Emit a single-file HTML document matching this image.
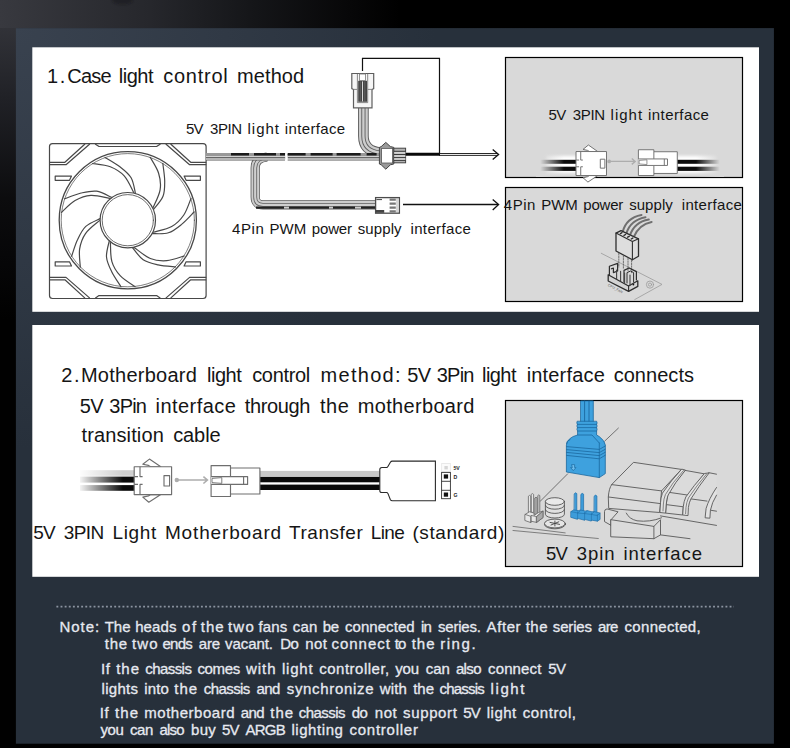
<!DOCTYPE html>
<html><head><meta charset="utf-8"><title>Light control method</title>
<style>
html,body{margin:0;padding:0;background:#000;}
body{width:790px;height:748px;overflow:hidden;position:relative;font-family:"Liberation Sans",sans-serif;}
svg{position:absolute;left:0;top:0;display:block}
text{font-family:"Liberation Sans",sans-serif;white-space:pre}
.t20{font-size:20px;fill:#151515}
.t15{font-size:15px;fill:#151515}
.note{font-size:15px;fill:#e6e9f0;stroke:#e6e9f0;stroke-width:0.3px}
</style></head>
<body>
<svg width="790" height="748" viewBox="0 0 790 748">
<defs>
<linearGradient id="bgTop" x1="0" y1="0" x2="400" y2="0" gradientUnits="userSpaceOnUse">
<stop offset="0" stop-color="#38393f"/><stop offset="0.375" stop-color="#26272c"/><stop offset="0.625" stop-color="#151619"/><stop offset="0.875" stop-color="#070708"/><stop offset="1" stop-color="#000"/>
</linearGradient>
<linearGradient id="bgLeft" x1="0" y1="0" x2="0" y2="320" gradientUnits="userSpaceOnUse">
<stop offset="0" stop-color="#38393f"/><stop offset="0.31" stop-color="#202126"/><stop offset="0.62" stop-color="#0c0c0e"/><stop offset="1" stop-color="#010101"/>
</linearGradient>
<radialGradient id="png" cx="16" cy="28" r="420" gradientUnits="userSpaceOnUse">
<stop offset="0" stop-color="#39424f"/><stop offset="1" stop-color="#27303b"/>
</radialGradient>
<filter id="blurA" x="-30%" y="-60%" width="160%" height="220%"><feGaussianBlur stdDeviation="0.9"/></filter>
</defs>
<!-- BACKGROUND -->
<rect width="790" height="748" fill="#000"/>
<rect width="790" height="28.2" fill="url(#bgTop)"/>
<rect y="28" width="16.2" height="720" fill="url(#bgLeft)"/>
<ellipse cx="122.5" cy="0" rx="10.5" ry="4.6" fill="#15151b" opacity="0.5" filter="url(#blurA)"/>
<rect x="15.9" y="28.1" width="758" height="715.6" fill="url(#png)"/>
<!-- WHITE PANELS -->
<rect x="32.3" y="47.3" width="726.7" height="264.5" fill="#fff"/>
<rect x="32.3" y="325" width="726.7" height="251.8" fill="#fff"/>
<!-- GRAY BOXES -->
<rect x="505.5" y="57.5" width="237" height="120" fill="#d9d9d9" stroke="#000" stroke-width="1.2"/>
<rect x="505.5" y="187.5" width="237" height="114" fill="#d9d9d9" stroke="#000" stroke-width="1.2"/>
<rect x="505.5" y="400.5" width="237" height="166" fill="#d9d9d9" stroke="#000" stroke-width="1.2"/>
<g id="fan" fill="none" stroke="#484848" stroke-width="1.2" stroke-linecap="round" stroke-linejoin="round">
<rect x="49.5" y="143.6" width="156.6" height="154.9" rx="3" fill="#fff"/>
<circle cx="127.8" cy="220.2" r="68.6" stroke-width="1.3"/><circle cx="127.8" cy="220.2" r="66.6" stroke-width="0.7"/>
<path d="M111.8 197.6C109.3 196.5 101.8 192 96.7 191.2C91.6 190.5 86.5 191.8 81.1 193C75.8 194.3 67.3 197.8 64.5 198.8M109.9 198.3C106.7 197.8 96.7 195.1 90.9 195.4C85.2 195.8 80 197.8 75.1 200.6C70.2 203.4 63.7 210.4 61.5 212.4M135.5 193.6C134.8 191 133.7 182.3 131.1 177.8C128.5 173.4 124.3 170.2 119.9 166.8C115.6 163.4 107.6 158.9 105.1 157.4M133.7 192.5C132.2 189.8 128.1 180.2 124.2 175.9C120.3 171.7 115.5 168.9 110.3 166.8C105 164.7 95.5 164 92.5 163.5M153.4 209.6C155 207.4 161.1 201.2 163 196.3C164.9 191.5 164.7 186.3 164.7 180.7C164.6 175.2 163.1 166.2 162.8 163.3M153.1 207.6C154.3 204.6 159.2 195.5 160.1 189.8C161.1 184 160.3 178.6 158.6 173.2C157 167.8 151.6 159.9 150.2 157.3M152 233.6C154.8 233.5 163.4 234.4 168.4 232.8C173.3 231.3 177.3 227.9 181.6 224.4C185.9 221 192 214.1 194.1 212M153.5 232.2C156.5 231.2 166.7 229.4 171.7 226.5C176.8 223.7 180.6 219.7 183.8 215C187 210.3 189.8 201.2 191 198.4M132.4 247.5C134.2 249.6 139 256.9 143.2 259.8C147.5 262.7 152.7 263.7 158.1 264.9C163.4 266.1 172.6 266.6 175.5 266.9M134.4 247.7C137.1 249.5 144.9 256.3 150.3 258.5C155.6 260.7 161.1 261.1 166.8 260.7C172.4 260.3 181.3 256.8 184.2 256M109.3 240.8C108.8 243.5 106.1 251.8 106.5 257C106.9 262.1 109.3 266.8 111.7 271.7C114.1 276.7 119.5 284.2 121 286.7M110.4 242.5C110.7 245.7 110.2 256.1 111.9 261.6C113.5 267.2 116.6 271.8 120.4 275.9C124.3 280.1 132.5 284.8 135 286.6M100.1 218.6C97.7 219.9 89.5 222.9 85.8 226.4C82 230 79.8 234.8 77.5 239.8C75.1 244.7 72.6 253.6 71.6 256.3M99.5 220.6C97.2 222.7 88.8 228.8 85.5 233.6C82.2 238.3 80.5 243.6 79.6 249.2C78.8 254.8 80.2 264.2 80.3 267.2"/>
<circle cx="127.8" cy="220.2" r="27.7" fill="#fff" stroke-width="1.2"/><circle cx="127.8" cy="220.2" r="25.6" stroke-width="0.8"/>
<path d="M49.8 162.3L64.9 162.3L84.7 144.2M49.8 164.7L66 164.7L89.5 144.2M55.2 176.1L71.5 176.1L69.5 180.3L55.2 180.3ZM49.8 279.8L64.9 279.8L84.7 297.9M49.8 277.4L66 277.4L89.5 297.9M55.2 266L71.5 266L69.5 261.8L55.2 261.8ZM205.8 162.3L190.7 162.3L170.9 144.2M205.8 164.7L189.6 164.7L166.1 144.2M200.4 176.1L184.1 176.1L186.1 180.3L200.4 180.3ZM205.8 279.8L190.7 279.8L170.9 297.9M205.8 277.4L189.6 277.4L166.1 297.9M200.4 266L184.1 266L186.1 261.8L200.4 261.8ZM95.5 144.2L99 146.5L156.6 146.5L160.1 144.2M95.5 297.9L99 295.6L156.6 295.6L160.1 297.9"/>
</g>
<!-- ===== PANEL 1 CABLES ===== -->
<g id="cables1" fill="none" stroke-linecap="butt">
 <!-- branch cable (drawn first) -->
 <path d="M267 157 C259 158 255.2 161 255.2 168 L255.2 197 Q255.2 204.8 263 204.8 L376 204.8" stroke="#5a5a5a" stroke-width="9.2"/>
 <path d="M267 157 C259 158 255.2 161 255.2 168 L255.2 197 Q255.2 204.8 263 204.8 L376 204.8" stroke="#cdcdcd" stroke-width="7.6"/>
 <path d="M267 157 C259 158 255.2 161 255.2 168 L255.2 197 Q255.2 204.8 263 204.8 L376 204.8" stroke="#5e5e5e" stroke-width="3.8"/>
 <path d="M267 157 C259 158 255.2 161 255.2 168 L255.2 197 Q255.2 204.8 263 204.8 L376 204.8" stroke="#cfcfcf" stroke-width="2.2"/>
 <path d="M256 207.6 L376 207.6" stroke="#222" stroke-width="2.4" stroke-dasharray="28 5 40 4 22 6"/>
 <!-- wires from top connector -->
 <path d="M363.4 108 L363.4 136 Q363.4 151 380 152.5" stroke="#5a5a5a" stroke-width="10.6"/>
 <path d="M363.4 108 L363.4 136 Q363.4 151 380 152.5" stroke="#cbcbcb" stroke-width="8.8"/>
 <path d="M363.4 108 L363.4 136 Q363.4 151 380 152.5" stroke="#5e5e5e" stroke-width="4.2"/>
 <path d="M363.4 108 L363.4 136 Q363.4 151 380 152.5" stroke="#cdcdcd" stroke-width="2.4"/>
 <!-- main cable -->
 <path d="M206 156.7 L285.2 156.7 M287.6 156.7 L380 156.7" stroke="#5a5a5a" stroke-width="7.6"/>
 <path d="M206 157.6 L285.2 157.6 M287.6 157.6 L380 157.6" stroke="#d2d2d2" stroke-width="4.4"/>
 <path d="M206 157.6 L285.2 157.6 M287.6 157.6 L380 157.6" stroke="#666" stroke-width="1.1"/>
 <path d="M206 154.2 L285.2 154.2 M287.6 154.2 L380 154.2" stroke="#999" stroke-width="2.4"/>
 <path d="M231 154.2 L285.2 154.2 M287.6 154.2 L380 154.2" stroke="#1c1c1c" stroke-width="2.4" stroke-dasharray="18 5 22 4 24 6 10 3"/>
 <path d="M287 152 q-1.6 2.4 -0.6 4.5 q0.8 2 -0.6 4.6" stroke="#fff" stroke-width="2.2"/>
</g>
<!-- top connector -->
<g id="conn-top" stroke="#5e5e5e" stroke-width="1.2" fill="#fff">
 <path d="M351.8 73.5 H373.7 V88.6 L372 89.6 V107.8 H353.5 V89.6 L351.8 88.6 Z" fill="#f6f6f6"/>
 <path d="M357.4 74 V102.6 H367.7 V74" fill="none" stroke="#7a7a7a" stroke-width="0.9"/>
 <path d="M353.5 89.4 H357.2 M367.9 89.4 H372" fill="none" stroke="#7a7a7a" stroke-width="0.9"/>
 <rect x="358.2" y="80.8" width="8.8" height="21" fill="#444" stroke="none"/>
 <path d="M362.5 81.4 V101.4" stroke="#e8e8e8" stroke-width="0.9" fill="none"/>
 <path d="M360.3 81.4 V101.4 M364.8 81.4 V101.4" stroke="#777" stroke-width="0.6" fill="none"/>
 <rect x="359.4" y="74" width="6.2" height="6.4" fill="#fff" stroke="#777" stroke-width="0.8"/>
</g>
<!-- middle connector -->
<g id="conn-mid" stroke="#444" stroke-width="1">
 <path d="M379.4 147.4 L381.2 146.6 L385.8 142.4 L390.4 146.6 L393.8 147.4 V164 L390.4 164.8 L385.8 169.2 L381.2 164.8 L379.4 164 Z" fill="#9a9a9a"/>
 <rect x="381.6" y="148.4" width="11" height="14.6" fill="#fff" stroke="#555" stroke-width="0.8"/>
 <rect x="393.8" y="148.2" width="11.8" height="14.6" fill="#b4b4b4"/>
 <path d="M394 151.3 H405.6 M394 154.5 H405.6 M394 157.6 H405.6 M394 160.4 H405.6" stroke="#3a3a3a" stroke-width="1" fill="none"/>
 <path d="M394 152.9 H405.6 M394 156 H405.6 M394 159 H405.6" stroke="#e8e8e8" stroke-width="1" fill="none"/>
</g>
<!-- bottom 4pin connector -->
<g id="conn-4pin" stroke="#4c4c4c" stroke-width="1.3">
 <rect x="375.6" y="197.6" width="23.8" height="15.6" fill="#fff"/>
 <path d="M389.6 199.7 H395.8 M389.6 203.7 H395.8 M389.6 207.6 H395.8 M389.6 211.4 H395.8" stroke="#777" stroke-width="2.2" fill="none"/>
 <path d="M397 198 V213" stroke="#9a9a9a" stroke-width="0.8" fill="none"/>
 <rect x="376" y="210" width="8.2" height="2.8" fill="#444" stroke="none"/>
 <path d="M376.4 199.6 H382" stroke="#444" stroke-width="1" fill="none"/>
</g>
<!-- callout lines + arrows -->
<g id="arrows1" fill="none" stroke="#111" stroke-width="1.2">
 <path d="M362.5 71 V58.4 H439.5 V154.3"/>
 <path d="M405.8 154.3 H440" stroke-width="3" stroke="#0a0a0a"/>
 <path d="M439 153.5 H497.4 M439 155.4 H497.4" stroke-width="0.9"/>
 <path d="M492.7 149.6 L498.6 154.5 L492.7 159.6" stroke-width="1.3"/>
 <path d="M403 204.5 H498" stroke-width="1.3"/>
 <path d="M492.7 199.5 L498.6 204.6 L492.7 209.9" stroke-width="1.3"/>
</g>
<!-- ===== reusable plug/socket (panel-2 coordinates) ===== -->
<defs>
 <linearGradient id="fadeL" x1="0" x2="1" y1="0" y2="0"><stop offset="0" stop-color="#fff" stop-opacity="1"/><stop offset="0.75" stop-color="#fff" stop-opacity="0"/></linearGradient>
 <linearGradient id="fadeR" x1="1" x2="0" y1="0" y2="0"><stop offset="0" stop-color="#fff" stop-opacity="1"/><stop offset="0.75" stop-color="#fff" stop-opacity="0"/></linearGradient>
 <linearGradient id="fadeLg" x1="0" x2="1" y1="0" y2="0"><stop offset="0" stop-color="#d9d9d9" stop-opacity="1"/><stop offset="0.15" stop-color="#d9d9d9" stop-opacity="1"/><stop offset="1" stop-color="#d9d9d9" stop-opacity="0"/></linearGradient>
 <linearGradient id="fadeRg" x1="1" x2="0" y1="0" y2="0"><stop offset="0" stop-color="#d9d9d9" stop-opacity="1"/><stop offset="0.15" stop-color="#d9d9d9" stop-opacity="1"/><stop offset="1" stop-color="#d9d9d9" stop-opacity="0"/></linearGradient>
 <filter id="blur2" x="-20%" y="-40%" width="140%" height="180%"><feGaussianBlur stdDeviation="1.6"/></filter>
 <g id="plug" stroke="#6e6e6e" stroke-width="1.15" fill="#fff" stroke-linejoin="round">
  <path d="M160.8 466.7 L149.4 459.1 L142.8 464.2 L148.5 465.4 L150.6 466.7 Z M160.8 494.6 L148.8 502.2 L142.8 497.1 L148.5 495.9 L150.6 494.6 Z"/>
  <rect x="134.2" y="466.7" width="37.4" height="27.9"/>
  <path d="M140 466.7 V476.6 H142.6 M140 494.6 V484.4 H142.6 M134.4 476.6 H138 M134.4 484.4 H138" fill="none"/>
  <rect x="164" y="475.6" width="5.6" height="10.4"/>
 </g>
 <g id="socket" stroke="#6e6e6e" stroke-width="1.15" fill="#fff" stroke-linejoin="round">
  <path d="M211.1 465.6 H230.5 V468 H259.9 V494 H230.5 V496.5 H211.1 Z"/>
  <path d="M230.5 468 V476.6 M230.5 494 V484.4" fill="none"/>
  <path d="M211.1 476.6 H247.6 V484.4 H211.1" fill="#fff"/>
  <path d="M243.6 476.6 V484.4" fill="none"/>
  <path d="M212 478.4 L221.8 477.6 V483.4 L212 482.6 Z" fill="#fff" stroke-width="0.9"/>
 </g>
 <g id="harrow" stroke="#adadad" stroke-width="1.6" fill="none">
  <circle cx="176.8" cy="480" r="2.2" fill="#adadad" stroke="none"/>
  <path d="M176.6 480 H207 M203.4 476.6 L207.4 480 L203.4 483.5"/>
 </g>
</defs>
<!-- ===== GRAY BOX 1 CONTENT ===== -->
<g id="box1art">
 <rect x="546" y="156" width="31" height="17" fill="#fff" filter="url(#blur2)"/>
 <rect x="539" y="159.8" width="38" height="4" fill="#0c0c0c"/><rect x="539" y="166.7" width="38" height="4.2" fill="#0c0c0c"/>
 <rect x="536" y="152" width="28" height="25" fill="url(#fadeLg)"/>
 <rect x="677" y="156" width="40" height="17" fill="#fff" filter="url(#blur2)"/>
 <rect x="677" y="159.8" width="45" height="4" fill="#0c0c0c"/><rect x="677" y="166.7" width="45" height="4.2" fill="#0c0c0c"/>
 <rect x="696" y="152" width="28" height="25" fill="url(#fadeRg)"/>
 <use href="#plug" transform="translate(576 163.5) scale(0.8155 0.86) translate(-134.2 -480.6)"/>
 <use href="#socket" transform="translate(638.4 162.6) scale(0.797 0.835) translate(-211.1 -481)"/>
 <use href="#harrow" transform="translate(609 161.4) scale(0.85 0.85) translate(-176.6 -480)"/>
</g>
<!-- ===== PANEL 2 CABLE ===== -->
<g id="cable2">
 <rect x="80" y="470.2" width="55" height="5.6" fill="#cfcfcf"/>
 <rect x="80" y="476.6" width="55" height="6" fill="#0a0a0a"/>
 <rect x="80" y="485.1" width="55" height="5.7" fill="#0a0a0a"/>
 <rect x="78" y="468" width="60" height="25" fill="url(#fadeL)"/>
 <rect x="259.9" y="470.9" width="121" height="5.4" fill="#c9c9c9"/>
 <rect x="259.9" y="476.8" width="121" height="5.5" fill="#0a0a0a"/>
 <rect x="259.9" y="484.6" width="121" height="5.4" fill="#0a0a0a"/>
 <use href="#plug"/>
 <use href="#socket"/>
 <use href="#harrow"/>
 <!-- big connector -->
 <path d="M379.8 469.6 Q379.8 467.5 381.9 467.5 H386.6 Q387.4 467.5 387.9 466.6 L390.4 462.2 Q391 461.1 392.4 461.1 H435.4 V500.8 H392.4 Q391 500.8 390.4 499.7 L387.9 493.4 Q387.4 492.5 386.6 492.5 H381.9 Q379.8 492.5 379.8 490.4 Z" fill="#fff" stroke="#2a2a2a" stroke-width="1.1"/>
 <!-- pin column -->
 <rect x="441.7" y="463.4" width="8.6" height="8.4" fill="#fbfbfb" stroke="#e2e2e2" stroke-width="0.7"/>
 <rect x="444.4" y="466" width="3.4" height="3.4" fill="#d6d6d6"/>
 <rect x="441.6" y="472.4" width="8.8" height="26.3" fill="#fff" stroke="#333" stroke-width="0.9"/>
 <path d="M441.6 481.3 H450.4 M441.6 490.3 H450.4" stroke="#333" stroke-width="0.9" fill="none"/>
 <rect x="443.8" y="474.4" width="4.3" height="4.2" fill="#111"/>
 <rect x="443.8" y="492.5" width="4.3" height="4.2" fill="#111"/>
 <text x="453.4" y="469.6" style="font-size:5.2px;font-weight:bold;fill:#1c1c1c">5V</text>
 <text x="453.4" y="478.5" style="font-size:5.2px;font-weight:bold;fill:#1c1c1c">D</text>
 <text x="453.4" y="496.7" style="font-size:5.2px;font-weight:bold;fill:#1c1c1c">G</text>
</g>
<!-- ===== GRAY BOX 2 CONTENT (4pin header) ===== -->
<g id="box2art" fill="none" stroke-linejoin="round" stroke-linecap="round">
 <path d="M601.3 253.3 L662 284.4 L634.7 299.6" stroke="#9a9a9a" stroke-width="0.8"/>
 <circle cx="650" cy="284.6" r="3.6" stroke="#9a9a9a" stroke-width="0.8"/>
 <circle cx="650" cy="284.6" r="1.6" stroke="#9a9a9a" stroke-width="0.8"/>
 <!-- wires -->
 <path d="M622.6 232.2 C625 222 633 216.6 641.5 215" stroke="#6f6f6f" stroke-width="2"/>
 <path d="M626.2 234 C629 224 637 218.6 645.5 217.2" stroke="#6f6f6f" stroke-width="2"/>
 <path d="M629.8 235.8 C633 226.4 640 221 648.8 219.6" stroke="#6f6f6f" stroke-width="2"/>
 <path d="M633.4 237.6 C637 229 643 223.6 651.6 222" stroke="#6f6f6f" stroke-width="2"/>
 <!-- block -->
 <path d="M616 233.1 L621 230.6 L638.5 238.8 V256.3 L632.4 259.8 L616 251 Z" fill="#dedede" stroke="#2e2e2e" stroke-width="1.3"/>
 <path d="M616 233.1 L632.4 241.6 L638.5 238.8 M632.4 241.6 V259.8" stroke="#2e2e2e" stroke-width="1.1"/>
 <path d="M620.4 233.6 l1.6 -0.9 M624 235.4 l1.6 -0.9 M627.6 237.2 l1.6 -0.9 M631.2 239 l1.6 -0.9" stroke="#2e2e2e" stroke-width="1.4"/>
 <!-- dashed guides -->
 <path d="M618.8 253.4 V267 M623.4 255.8 V269 M628 258.2 V271 M631.6 260.4 V273" stroke="#555" stroke-width="0.8" stroke-dasharray="1.5 1.2"/>
 <!-- header -->
 <path d="M608.2 274.8 V281 L628.6 291.4 L637.8 286.4 V280.8 L628.6 286 Z" fill="#d4d4d4" stroke="#2e2e2e" stroke-width="1.3"/>
 <path d="M628.6 286 V291.4" stroke="#2e2e2e" stroke-width="1.1"/>
 <path d="M609.4 274.6 V266.2 L617.6 263.4 V271 L613.4 272.6 V268 L611.4 268.8" stroke="#2e2e2e" stroke-width="1.2"/>
 <path d="M624 282 V270.4 L629 268 L636.4 271.6 V280" stroke="#2e2e2e" stroke-width="1.2"/>
 <path d="M627 283 V272.6 L630.6 271 L633.6 272.6 V282" stroke="#2e2e2e" stroke-width="1"/>
 <path d="M616.6 279 V270 M620.6 281 V271.4 M624.6 283 V273 M630 285.4 V275" stroke="#444" stroke-width="1.1"/>
 <circle cx="633.4" cy="284.6" r="0.9" fill="#111" stroke="none"/>
</g>
<text transform="translate(607.6 285.8) rotate(28)" style="font-size:3.4px;fill:#555;letter-spacing:0.1px">CPU_FAN</text>
<!-- ===== GRAY BOX 3 CONTENT (motherboard) ===== -->
<g id="box3art" fill="none" stroke-linejoin="round" stroke-linecap="round">
 <!-- diagonal leader lines -->
 <path d="M618.4 428.1 L604.7 441.1 M567.6 473.9 L540.1 501.4" stroke="#555" stroke-width="0.8"/>
 <!-- board edge lines -->
 <path d="M513 526.4 L565.2 532.9 M513 530.5 L598.3 538.5" stroke="#666" stroke-width="0.8"/>
 <!-- heatsink / slots -->
 <g stroke="#585858" stroke-width="0.9" fill="#dbdbdb">
  <!-- lower platform -->
  <path d="M606.6 509 Q604.4 509.4 604.5 511.6 V521.6 L611.1 525.4 V519.7 L617.8 512.1 Z"/>
  <path d="M611.1 519.7 L653.9 526.4 L660.5 519.7 V534.9 L653.9 538.7 L611.1 536.8 Z"/>
  <path d="M653.9 526.4 V538.7" fill="none"/>
  <path d="M626.3 513.1 Q629 519 637 520.8 Q650 522.4 661.5 517.8" fill="none"/>
  <path d="M660.5 534.9 L690 538.7 M660.5 515.9 L716.5 525.4" fill="none"/>
  <!-- block 3 (cut at right) -->
  <path d="M708.9 472.7 L716.5 474.2 V511.2 L710.4 510.2 L690.9 498.9 Z" stroke="none"/>
  <path d="M708.9 472.7 L716.5 474.2 M690.9 498.9 L707 501.1 M710.4 510.2 L716.5 511.2" fill="none"/>
  <!-- block 2 -->
  <path d="M685.2 470.4 L704.2 473.8 L688 495.1 L683.3 506.8 L682.7 515 L665.6 513.1 L666.2 504.6 L668.1 492.2 Z"/>
  <path d="M668.1 492.2 L688 495.1 M666.2 504.6 L683.3 506.8" fill="none"/>
  <!-- block 1 -->
  <path d="M633.9 462.4 L681.4 469.4 L661.5 490.9 L660.5 503.6 L659.6 512.5 L608.7 508.4 L608.3 497 Q609 488 611.7 484.6 Z"/>
  <path d="M611.7 484.6 L661.5 490.9 M608.5 497 L660.5 503.6" fill="none"/>
  <!-- straps -->
  <path d="M681.4 469.4 Q670.9 480.8 662.4 493.2 Q660.7 498 660.5 502.7 L659.9 512.5 L665.6 513.1 L666.2 504.6 Q666.6 499 668.1 495.1 Q674.7 482.7 685.2 470.4 Z" fill="#e2e2e2"/>
  <path d="M683.4 470.6 Q672 483 665.4 494.6 Q663.6 499 663.4 504 L663 511" fill="none" stroke-width="0.7"/>
  <path d="M704.2 473.8 Q693.7 485.6 685.8 497 Q683.8 501.6 683.3 506.5 L682.7 515 L688 515.6 L688.4 507.4 Q689 502.6 690.9 498.9 Q698.5 486.5 708.9 473.2 Z" fill="#e2e2e2"/>
  <path d="M706.6 474 Q696 486.4 688.4 498 Q686.4 502.6 686 507.4 L685.6 513.6" fill="none" stroke-width="0.7"/>
  <path d="M716.5 487.5 Q708.9 498.9 706.1 508.4 L705.1 517.8 L709.9 518.2 L710.4 510.3 Q711.8 502.7 716.5 495.1" fill="#e2e2e2"/>
 </g>
 <!-- gray 3pin header -->
 <g stroke="#666" stroke-width="0.8" fill="#e6e6e6">
  <path d="M528.4 512 V496.2 Q529.6 494.6 530.8 496.2 V512 Z M531.2 512 V494.4 Q532.4 492.8 533.6 494.4 V512 Z"/>
  <path d="M534.8 514 V498 Q536 496.4 537.2 498 V514 Z" fill="#b4b4b4"/>
  <path d="M537.8 513 V495.6 Q538.8 494.2 539.8 495.6 V513 Z" fill="#cfcfcf"/>
  <path d="M525.2 514.4 L529.4 511.8 L534 513 L534 515.4 L538.4 512.6 L543 511 V517.6 L536.6 522.4 L531 521.2 L530.8 522.6 L525.2 520.6 Z"/>
  <path d="M536.6 522.4 V516.6 L543 511 M536.6 516.6 L531 515.4 V521.2 M525.2 514.4 L530.8 516.4 V522.6" fill="none"/>
  <path d="M536.6 516.6 L543 511 V517.6 L536.6 522.4 Z" fill="#a9a9a9"/>
 </g>
 <!-- coil + screw -->
 <g stroke="#555" stroke-width="0.9" fill="#e0e0e0">
  <ellipse cx="554.9" cy="524.4" rx="10.4" ry="4.4"/>
  <ellipse cx="554.9" cy="523.5" rx="10.4" ry="4.4" fill="#e6e6e6"/>
  <path d="M550 522.4 L559.6 524.4 M551 525 L558.8 521.8 M554.9 521 V526" stroke-width="0.9" stroke="#444"/>
  <path d="M545.4 501.5 V514.2 A9.5 3.8 0 0 0 564.4 514.2 V501.5 Z"/>
  <path d="M545.4 505.4 A9.5 3.8 0 0 0 564.4 505.4 M545.4 509.6 A9.5 3.8 0 0 0 564.4 509.6" fill="none"/>
  <ellipse cx="554.9" cy="501.5" rx="9.5" ry="3.8" fill="#e9e9e9"/>
 </g>
 <!-- blue pins -->
 <g stroke="#1f6fa8" stroke-width="0.7" fill="#3d9cda">
  <path d="M574.4 493.6 Q575.6 491.8 576.8 493.6 V511.6 H574.4 Z M581 494.2 Q582.3 492.4 583.6 494.2 V512.4 H581 Z M594.3 496 Q595.6 494.2 596.9 496 V514.6 H594.3 Z"/>
  <path d="M571 511.6 L573.6 509.9 L578.4 510.6 L580.4 510 L585.2 511 L587.2 510.6 L592 511.8 L594 511.6 L600.1 513 V519.4 L597.4 521.2 L592 520.2 L591 521 L585.4 519.6 L584.4 520.2 L578.4 518.6 L577 519.2 L571 517.4 Z"/>
  <path d="M577.6 511.8 V519 M584.6 512.4 V520 M591.4 513.2 V520.8 M597.4 514.6 V521.2 M571 511.6 L577.6 513 L580.4 510.6 M577.6 513 L584.6 513.6 L587.2 511.2 M584.6 513.6 L591.4 514.4 L594 512 M591.4 514.4 L597.4 515.6 L600.1 513" fill="none" stroke-width="0.6"/>
 </g>
 <!-- blue connector -->
 <g stroke="#1b689f" stroke-width="0.8" fill="#3ea1de">
  <path d="M580.9 400.9 H593.3 V423 H580.9 Z"/>
  <path d="M584.6 401 V422 M589 401 V422" stroke-width="0.9"/>
  <path d="M577 421.6 Q576.4 423 577.4 424.4 Q576.4 426 577.4 427.6 Q576.4 429.4 577.6 431 L577.6 435 Q567.6 437.4 566.4 445 V472 L599.3 477.6 L605.3 473.6 V445 Q605 441 599.3 436.6 L596.6 435 V431 Q597.6 429.4 596.6 427.6 Q597.6 426 596.6 424.4 Q597.6 423 596.8 421.6 Z"/>
  <path d="M577.4 424.4 H596.6 M577.4 427.6 H596.6 M577.6 431 H596.6 M577.6 435 H592 L599.3 443" fill="none"/>
  <path d="M566.4 443.6 Q566 441 570 439.6 M566.6 446.6 L599.3 449.4 L605.3 446 M566.6 449.6 L599.3 452.6 L605.3 449.2 M566.6 452.4 L599.3 455.6 L605.3 452.2 M566.6 455.4 L599.3 458.8 L605.3 455.2 M599.3 443 V477.6" fill="none"/>
  <path d="M572 464.6 h2.6 v3 h1.4 l-2.7 3 l-2.7 -3 h1.4 Z" fill="#6dbcec" stroke-width="0.7"/>
 </g>
</g>

<!-- TEXT -->
<g id="texts">
<text class="t20" y="83.4"><tspan x="47.07" letter-spacing="1.49">1. </tspan><tspan x="67.33" letter-spacing="-0.8">Case </tspan><tspan x="118.81" letter-spacing="-0.48">light </tspan><tspan x="163.25" letter-spacing="0.75">control </tspan><tspan x="237.12" letter-spacing="0.06">method</tspan></text>
<text class="t15" y="134"><tspan x="186.05" letter-spacing="-0.8">5V </tspan><tspan x="210.06" letter-spacing="-0.41">3PIN </tspan><tspan x="247.61" letter-spacing="0.93">light </tspan><tspan x="284.8" letter-spacing="0.36">interface</tspan></text>
<text class="t15" y="120.3"><tspan x="548.61" letter-spacing="-0.8">5V </tspan><tspan x="572.74" letter-spacing="-0.33">3PIN </tspan><tspan x="610.58" letter-spacing="0.99">light </tspan><tspan x="648.04" letter-spacing="0.42">interface</tspan></text>
<text class="t15" y="233.8"><tspan x="232.11" letter-spacing="0.53">4Pin </tspan><tspan x="269.54" letter-spacing="0.03">PWM </tspan><tspan x="311.81" letter-spacing="-0.17">power </tspan><tspan x="357.79" letter-spacing="0.08">supply </tspan><tspan x="410.5" letter-spacing="0.35">interface</tspan></text>
<text class="t15" y="209.6"><tspan x="503.81" letter-spacing="0.51">4Pin </tspan><tspan x="541.15" letter-spacing="-0.02">PWM </tspan><tspan x="583.31" letter-spacing="-0.2">power </tspan><tspan x="629.17" letter-spacing="0.06">supply </tspan><tspan x="681.75" letter-spacing="0.33">interface</tspan></text>
<text class="t20" y="382.3"><tspan x="61.2" letter-spacing="1.6">2. </tspan><tspan x="80.92" letter-spacing="0.26">Motherboard </tspan><tspan x="207.01" letter-spacing="-0.48">light </tspan><tspan x="252.15" letter-spacing="-0.31">control </tspan><tspan x="320.52" letter-spacing="1.3">method: </tspan><tspan x="407.35" letter-spacing="-0.8">5V </tspan><tspan x="436.78" letter-spacing="-0.8">3Pin </tspan><tspan x="482.01" letter-spacing="-0.56">light </tspan><tspan x="526.7" letter-spacing="0.17">interface </tspan><tspan x="613.66" letter-spacing="0.04">connects</tspan></text>
<text class="t20" y="412.5"><tspan x="79.85" letter-spacing="-0.8">5V </tspan><tspan x="109.33" letter-spacing="-0.8">3Pin </tspan><tspan x="155.5" letter-spacing="0.45">interface </tspan><tspan x="244.76" letter-spacing="-0.38">through </tspan><tspan x="320.06" letter-spacing="0.46">the </tspan><tspan x="357.82" letter-spacing="0.32">motherboard</tspan></text>
<text class="t20" y="441.5"><tspan x="81.46" letter-spacing="0.13">transition </tspan><tspan x="173.15" letter-spacing="-0.07">cable</tspan></text>
<text class="t20" y="538.7" style="font-size:19px"><tspan x="33.33" letter-spacing="-0.8">5V </tspan><tspan x="63.73" letter-spacing="-0.59">3PIN </tspan><tspan x="112.61" letter-spacing="0.59">Light </tspan><tspan x="164.91" letter-spacing="0.85">Motherboard </tspan><tspan x="289.06" letter-spacing="0.52">Transfer </tspan><tspan x="370.71" letter-spacing="-0.64">Line </tspan><tspan x="412.39" letter-spacing="0.59">(standard)</tspan></text>
<text class="t20" y="559.5" style="font-size:18.5px"><tspan x="545.94" letter-spacing="-0.8">5V </tspan><tspan x="576.83" letter-spacing="0.94">3pin </tspan><tspan x="623.53" letter-spacing="0.95">interface</tspan></text>
<text class="note" y="631.5"><tspan x="59.55" letter-spacing="0.93">Note: </tspan><tspan x="104.68" letter-spacing="-0.02">The </tspan><tspan x="135.2" letter-spacing="0.08">heads </tspan><tspan x="182.04" letter-spacing="1.55">of </tspan><tspan x="200.85" letter-spacing="0.94">the </tspan><tspan x="227.97" letter-spacing="1.22">two </tspan><tspan x="258.4" letter-spacing="0.2">fans </tspan><tspan x="292.77" letter-spacing="0.2">can </tspan><tspan x="322.81" letter-spacing="-0.34">be </tspan><tspan x="344.93" letter-spacing="0.06">connected </tspan><tspan x="421.0" letter-spacing="-0.8">in </tspan><tspan x="437.91" letter-spacing="-0.18">series. </tspan><tspan x="486.54" letter-spacing="0.6">After </tspan><tspan x="525.65" letter-spacing="0.54">the </tspan><tspan x="552.81" letter-spacing="-0.16">series </tspan><tspan x="598.02" letter-spacing="-0.63">are </tspan><tspan x="624.53" letter-spacing="0.31">connected,</tspan></text>
<text class="note" y="649.3"><tspan x="104.75" letter-spacing="0.74">the </tspan><tspan x="131.97" letter-spacing="1.17">two </tspan><tspan x="162.42" letter-spacing="-0.72">ends </tspan><tspan x="198.72" letter-spacing="-0.13">are </tspan><tspan x="225.07" letter-spacing="-0.07">vacant. </tspan><tspan x="280.15" letter-spacing="-0.43">Do </tspan><tspan x="305.29" letter-spacing="0.36">not </tspan><tspan x="331.46" letter-spacing="0.99">connect </tspan><tspan x="394.75" letter-spacing="-0.8">to </tspan><tspan x="411.65" letter-spacing="1.04">the </tspan><tspan x="440.18" letter-spacing="1.55">ring.</tspan></text>
<text class="note" y="674.3"><tspan x="101.0" letter-spacing="0.59">If </tspan><tspan x="116.15" letter-spacing="0.99">the </tspan><tspan x="145.23" letter-spacing="-0.56">chassis </tspan><tspan x="197.47" letter-spacing="-0.35">comes </tspan><tspan x="246.02" letter-spacing="0.95">with </tspan><tspan x="281.91" letter-spacing="0.8">light </tspan><tspan x="319.23" letter-spacing="0.5">controller, </tspan><tspan x="395.14" letter-spacing="-0.08">you </tspan><tspan x="425.87" letter-spacing="-0.1">can </tspan><tspan x="455.9" letter-spacing="-0.62">also </tspan><tspan x="488.06" letter-spacing="0.12">connect </tspan><tspan x="548.35" letter-spacing="-0.8">5V</tspan></text>
<text class="note" y="693.6"><tspan x="101.61" letter-spacing="0.29">lights </tspan><tspan x="144.31" letter-spacing="0.11">into </tspan><tspan x="174.35" letter-spacing="0.99">the </tspan><tspan x="203.83" letter-spacing="-0.58">chassis </tspan><tspan x="256.58" letter-spacing="-0.61">and </tspan><tspan x="286.69" letter-spacing="0.69">synchronize </tspan><tspan x="379.82" letter-spacing="0.12">with </tspan><tspan x="413.25" letter-spacing="-0.06">the </tspan><tspan x="439.49" letter-spacing="-0.8">chassis </tspan><tspan x="490.52" letter-spacing="1.6">light</tspan></text>
<text class="note" y="717.8"><tspan x="99.7" letter-spacing="0.59">If </tspan><tspan x="114.95" letter-spacing="1.09">the </tspan><tspan x="144.27" letter-spacing="0.52">motherboard </tspan><tspan x="240.78" letter-spacing="-0.61">and </tspan><tspan x="270.25" letter-spacing="0.99">the </tspan><tspan x="298.73" letter-spacing="-0.53">chassis </tspan><tspan x="351.83" letter-spacing="-0.77">do </tspan><tspan x="374.69" letter-spacing="0.61">not </tspan><tspan x="403.09" letter-spacing="0.63">support </tspan><tspan x="463.15" letter-spacing="-0.8">5V </tspan><tspan x="486.81" letter-spacing="0.48">light </tspan><tspan x="522.73" letter-spacing="0.59">control,</tspan></text>
<text class="note" y="734.5"><tspan x="100.44" letter-spacing="-0.33">you </tspan><tspan x="130.07" letter-spacing="-0.45">can </tspan><tspan x="159.47" letter-spacing="-0.8">also </tspan><tspan x="191.11" letter-spacing="0.28">buy </tspan><tspan x="222.05" letter-spacing="-0.8">5V </tspan><tspan x="245.52" letter-spacing="-0.79">ARGB </tspan><tspan x="291.41" letter-spacing="0.57">lighting </tspan><tspan x="349.43" letter-spacing="0.76">controller</tspan></text>
</g>
<!-- dotted line -->
<line x1="56.4" y1="606.6" x2="734" y2="606.6" stroke="#8b93a0" stroke-width="1.8" stroke-dasharray="1.9 2.23"/>
</svg>
</body></html>
